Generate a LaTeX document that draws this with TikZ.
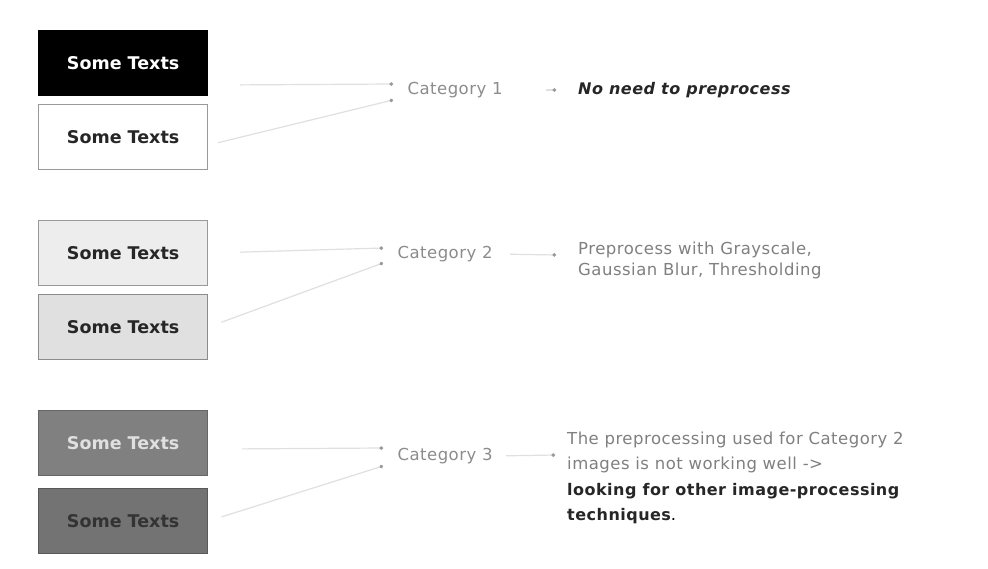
\documentclass[tikz,border=0pt]{standalone}
\usepackage{fontspec}
\setmainfont{DejaVu Sans}
\newfontfamily\widefont[LetterSpace=3]{DejaVu Sans}
\usetikzlibrary{arrows.meta}
\begin{document}
\begin{tikzpicture}[x=1pt,y=-1pt,
  box/.style={draw=#1, line width=1.2pt, minimum width=169pt, minimum height=65pt,
    inner sep=0pt, font=\fontsize{17.5}{20}\selectfont\bfseries, anchor=north west},
  conn/.style={draw=black!12, line width=1.2pt, -{Circle[length=3.5pt,color=black!40]}},
  catlbl/.style={anchor=west, text=black!45, font=\widefont\fontsize{16.5}{18}\selectfont},
  desc/.style={anchor=west, align=left, inner sep=0pt},
]
\useasboundingbox[fill=white] (0,0) rectangle (988,569);

% boxes
\node[box=black, fill=black, text=white] (b1) at (38,30) {Some Texts};
\node[box=black!40, fill=white, text=black!85] (b2) at (38,104) {Some Texts};
\node[box=black!40, fill=black!7, text=black!85] (b3) at (38,220) {Some Texts};
\node[box=black!45, fill=black!12, text=black!85] (b4) at (38,294) {Some Texts};
\node[box=black!60, fill=black!50, text=black!12] (b5) at (38,410) {Some Texts};
\node[box=black!65, fill=black!55, text=black!80] (b6) at (38,488) {Some Texts};

% categories
\node[catlbl] (c1) at (404,90) {Category 1};
\node[catlbl] (c2) at (394,254) {Category 2};
\node[catlbl] (c3) at (394,456) {Category 3};

\coordinate (t1a) at (393,84);  \coordinate (t1b) at (393,100);
\coordinate (t2a) at (383,248); \coordinate (t2b) at (383,263);
\coordinate (t3a) at (383,448); \coordinate (t3b) at (383,466);

% descriptions
\node[desc, text=black!85, font=\widefont\fontsize{16}{18}\selectfont\bfseries\itshape] (d1) at (578,90)
  {No need to preprocess};
\node[desc, text=black!50, font=\widefont\fontsize{16.5}{21}\selectfont] (d2) at (578,260)
  {Preprocess with Grayscale,\\Gaussian Blur, Thresholding};
\node[desc, font=\widefont\fontsize{16.5}{25.3}\selectfont] (d3) at (567,478)
  {\textcolor{black!50}{The preprocessing used for Category 2}\\
   \textcolor{black!50}{images is not working well ->}\\
   \textcolor{black!85}{\fontsize{16}{25.3}\selectfont\bfseries looking for other image-processing}\\
   \textcolor{black!85}{\fontsize{16}{25.3}\selectfont\bfseries techniques}.};

% connectors box -> category
\draw[conn, shorten <=32pt] ([yshift=-22pt]b1.east) -- (t1a);
\draw[conn, shorten <=10pt] ([yshift=-8pt]b2.east) -- (t1b);
\draw[conn, shorten <=32pt] (b3.east) -- (t2a);
\draw[conn, shorten <=14pt] (b4.east) -- (t2b);
\draw[conn, shorten <=34pt] ([yshift=-6pt]b5.east) -- (t3a);
\draw[conn, shorten <=14pt] (b6.east) -- (t3b);

% connectors category -> description
\draw[conn, shorten <=40pt] (c1.east) -- ([xshift=-22pt]d1.west);
\draw[conn, shorten <=14pt] (c2.east) -- ([xshift=-22pt,yshift=5pt]d2.west);
\draw[conn, shorten <=10pt] (c3.east) -- ([xshift=-12pt,yshift=23pt]d3.west);
\end{tikzpicture}
\end{document}
